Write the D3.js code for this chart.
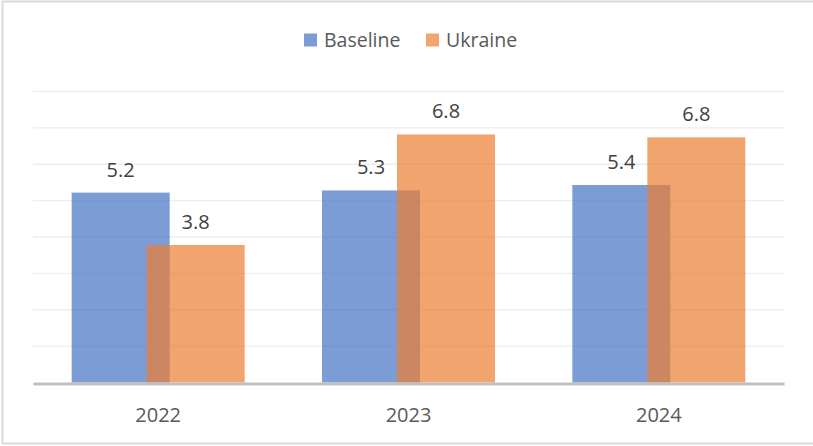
<!DOCTYPE html>
<html>
<head>
<meta charset="utf-8">
<script src="https://cdn.jsdelivr.net/npm/d3@7"></script>
<style>
  body { margin: 0; background: #fff; }
  text { font-family: "Open Sans", "Liberation Sans", sans-serif; }
</style>
</head>
<body>
<div id="chart"></div>
<script>
// chart data
var years = ["2022", "2023", "2024"];
var seriesNames = ["Baseline", "Ukraine"];
var baseline = [5.22, 5.28, 5.43];
var ukraine = [3.78, 6.82, 6.74];
var baselineLabels = ["5.2", "5.3", "5.4"];
var ukraineLabels = ["3.8", "6.8", "6.8"];
var gridTicks = [0, 1, 2, 3, 4, 5, 6, 7, 8];

var width = 813,
    height = 446,
    margin = {top: 91.5, right: 29, bottom: 63.5, left: 33};

var colors = {Baseline: "#4472C4", Ukraine: "#ED7D31"};

var svg = d3.select("#chart").append("svg")
    .attr("width", width)
    .attr("height", height);

// outer frame
svg.append("rect")
    .attr("x", 2.5).attr("y", 1.5)
    .attr("width", width)
    .attr("height", height - 4)
    .attr("fill", "none")
    .attr("stroke", "#d9d9d9")
    .attr("stroke-width", 2);

var x = d3.scaleBand()
    .domain(years)
    .range([margin.left, width - margin.right]);

var y = d3.scaleLinear()
    .domain([0, 8])
    .range([height - margin.bottom, margin.top]);

// gridlines
svg.append("g")
  .selectAll("line")
    .data(gridTicks.slice(1))
  .enter().append("line")
    .attr("x1", margin.left)
    .attr("x2", width - margin.right)
    .attr("y1", d => y(d))
    .attr("y2", d => y(d))
    .attr("stroke", "#ededed")
    .attr("stroke-width", 1.3);

var barW = 98, offset = 37.5;

var rows = years.map((yr, i) => ({
  year: yr,
  vals: [
    {name: "Baseline", v: baseline[i], label: baselineLabels[i], dx: -offset},
    {name: "Ukraine", v: ukraine[i], label: ukraineLabels[i], dx: offset}
  ]
}));

var groups = svg.append("g").selectAll("g")
    .data(rows)
  .enter().append("g")
    .attr("transform", d => "translate(" + (x(d.year) + x.bandwidth() / 2) + ",0)");

groups.selectAll("rect")
    .data(d => d.vals)
  .enter().append("rect")
    .attr("x", d => d.dx - barW / 2)
    .attr("y", d => y(d.v))
    .attr("width", barW)
    .attr("height", d => y(0) - y(d.v))
    .attr("fill", d => colors[d.name])
    .attr("fill-opacity", 0.7);

groups.selectAll("text")
    .data(d => d.vals)
  .enter().append("text")
    .attr("x", d => d.dx)
    .attr("y", d => y(d.v) - 16)
    .attr("text-anchor", "middle")
    .attr("font-size", "20px")
    .attr("fill", "#404040")
    .text(d => d.label);

// x axis
var xAxis = svg.append("g")
    .attr("transform", "translate(0," + (y(0) + 1) + ")")
    .call(d3.axisBottom(x).tickSize(0).tickPadding(24));
xAxis.select(".domain")
    .attr("stroke", "#bfbfbf")
    .attr("stroke-width", 3);
xAxis.selectAll("text")
    .attr("font-size", "20px")
    .attr("fill", "#595959")
    .style("font-family", "'Open Sans', sans-serif");

// legend
var legend = svg.append("g");
var legendX = [304, 426];
seriesNames.forEach((name, i) => {
  legend.append("rect")
      .attr("x", legendX[i]).attr("y", 33.5)
      .attr("width", 13).attr("height", 13)
      .attr("fill", colors[name])
      .attr("fill-opacity", 0.7);
  legend.append("text")
      .attr("x", legendX[i] + 20)
      .attr("y", 47)
      .attr("font-size", "19.5px")
      .attr("fill", "#595959")
      .text(name);
});
</script>
</body>
</html>
